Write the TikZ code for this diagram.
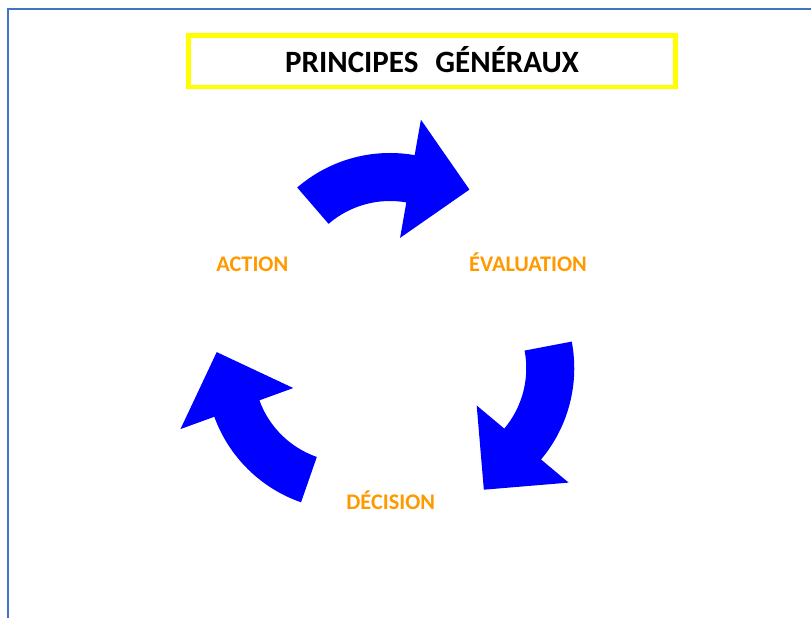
\documentclass[tikz,border=0pt]{standalone}
\usepackage{fontspec}
\setmainfont{Carlito}
\definecolor{framecol}{HTML}{4472C4}
\definecolor{titleframe}{HTML}{FFFF00}
\definecolor{arrowblue}{HTML}{0000FF}
\definecolor{labelorange}{HTML}{FF9900}
\tikzset{
  titlebox/.style={draw=titleframe, line width=4.5pt},
  titletext/.style={anchor=base, font=\bfseries\fontsize{31}{36}\selectfont, text=black, inner sep=0pt},
  steplabel/.style={anchor=base, font=\bfseries\fontsize{22.3}{26}\selectfont, text=labelorange, inner sep=0pt},
  cyclefill/.style={fill=arrowblue, draw=none}
}
\begin{document}
\begin{tikzpicture}[x=1pt,y=1pt]
\useasboundingbox (0,0) rectangle (811,618);
% page frame (left and top edges visible)
\draw[framecol, line width=2pt] (7.7,-5) -- (7.7,609) -- (820,609);
% title
\draw[titlebox] (188.5,531) rectangle (675.5,582.5);
\node[titletext] (title) at (432,545.3) {PRINCIPES\hspace{0.55em}GÉNÉRAUX};
% cycle arrows: one curved arrow, repeated at 120 degree steps
\foreach \ang in {0,-120,-240}{
  \begin{scope}[rotate around={\ang:(390,274.2)}]
    \path[cyclefill]
      ([shift={(390,323)}]130.8:142) arc[start angle=130.8, end angle=80, radius=142]
      -- ([shift={(390,323)}]80:178)
      -- ([shift={(390,323)}]53:132)
      -- ([shift={(390,323)}]80:58)
      -- ([shift={(390,323)}]80:94) arc[start angle=80, end angle=130.8, radius=94]
      -- cycle;
  \end{scope}
}
% labels
\node[steplabel] (action) at (252.3,346.0) {ACTION};
\node[steplabel] (evaluation) at (528,346.0) {ÉVALUATION};
\node[steplabel] (decision) at (390.7,108.0) {DÉCISION};
\end{tikzpicture}
\end{document}
